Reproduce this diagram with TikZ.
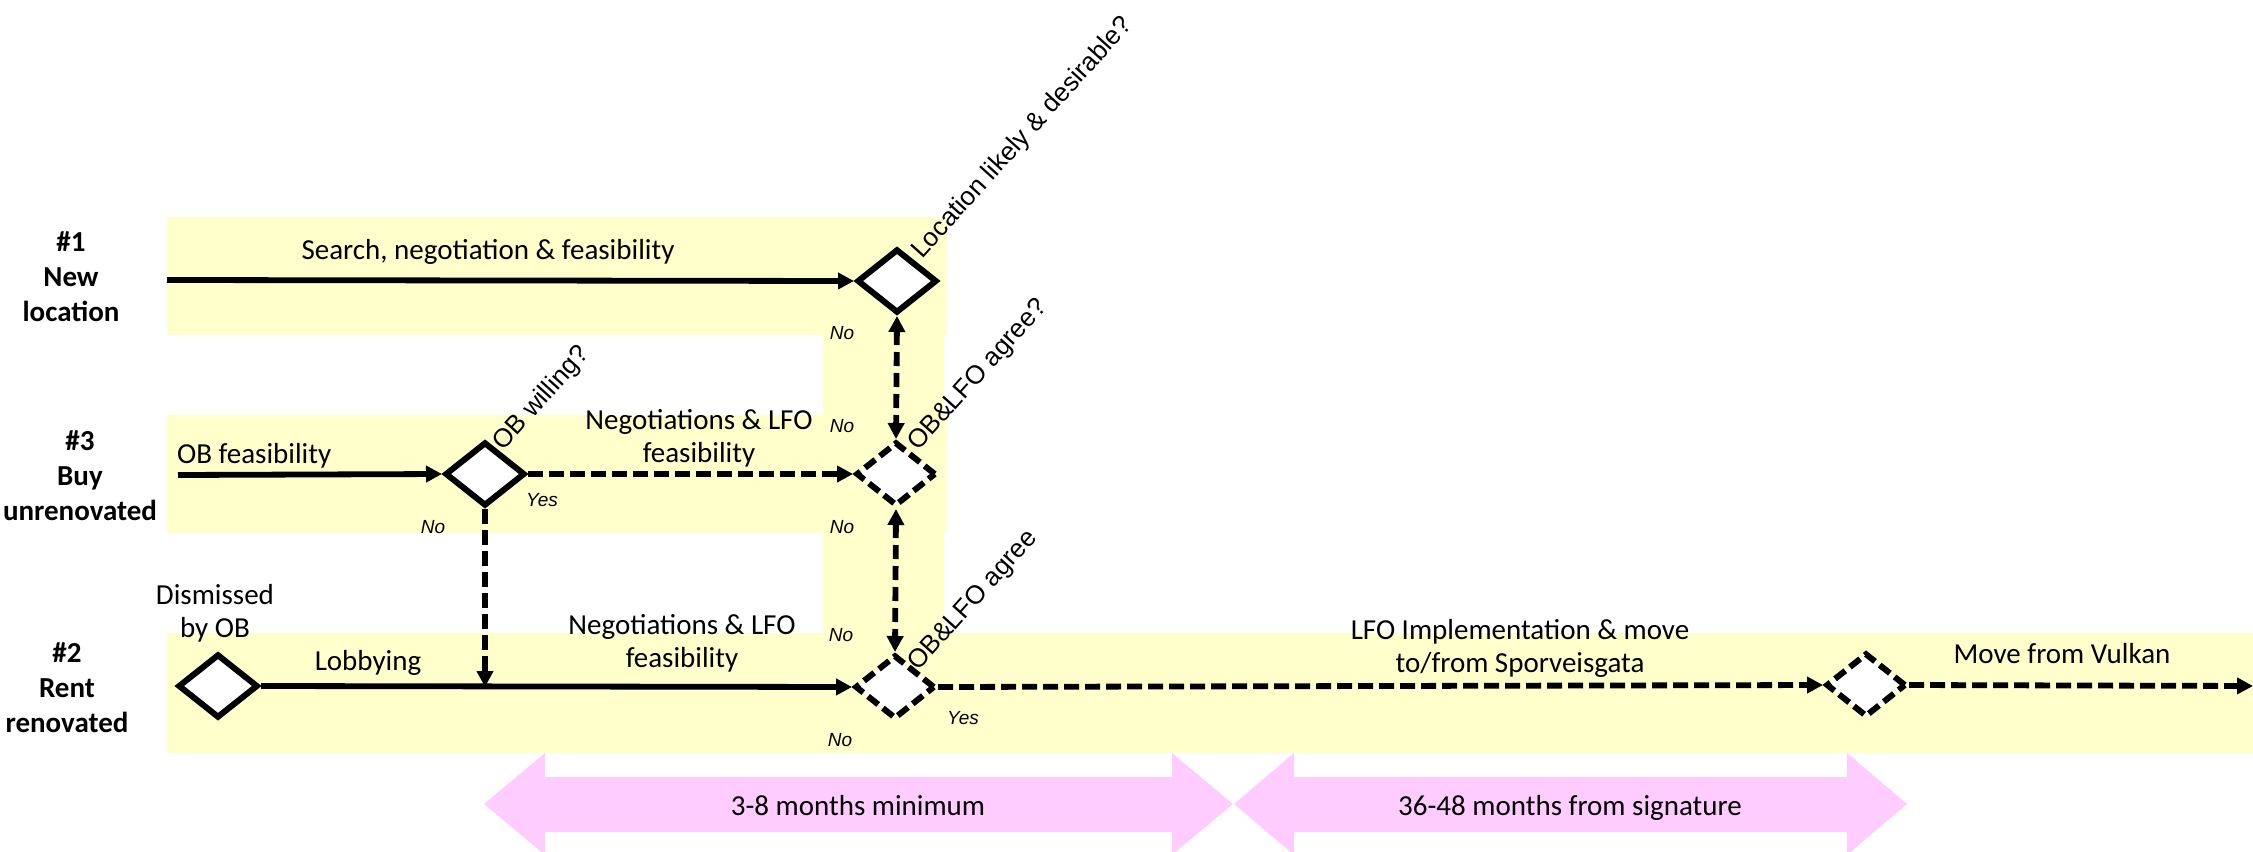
\documentclass[tikz,border=0pt]{standalone}
\usepackage{fontspec}
\setmainfont{Carlito}
\newfontfamily\arialish{Liberation Sans}
\usetikzlibrary{arrows.meta,shapes.geometric}
\definecolor{laneyellow}{HTML}{FFFFCC}
\definecolor{spanpink}{HTML}{FFCCFF}

\begin{document}
\begin{tikzpicture}[x=1pt,y=-1pt,
  laneband/.style={fill=laneyellow, draw=none},
  spanarrow/.style={fill=spanpink, draw=none},
  decision/.style={diamond, draw=black, fill=white, line width=6pt,
    minimum width=80pt, minimum height=64pt, inner sep=0pt},
  pending/.style={decision, dash pattern=on 13pt off 6pt},
  solidflow/.style={line width=5.8pt, -{Triangle[length=16pt,width=16pt]}},
  dashflow/.style={solidflow, dash pattern=on 15pt off 6pt},
  twoway/.style={line width=5.8pt, dash pattern=on 14pt off 7pt,
    {Triangle[length=16pt,width=16pt]}-{Triangle[length=16pt,width=16pt]}},
  lanelabel/.style={font=\fontsize{29}{35}\selectfont\bfseries, align=center},
  steplabel/.style={font=\fontsize{29}{33}\selectfont, align=center},
  answerlbl/.style={font=\arialish\itshape\fontsize{19}{22}\selectfont},
  questionlbl/.style={font=\arialish\fontsize{26}{30}\selectfont, rotate=48,
    anchor=base west, inner sep=0pt},
]
\useasboundingbox (0,0) rectangle (2253,851);

% swim lanes
\fill[laneband] (167,217) rectangle (947,335);
\fill[laneband] (167,415) rectangle (947,533);
\fill[laneband] (167,633) rectangle (2253,753);
\fill[laneband] (823,330) rectangle (944,640);

% duration arrows
\fill[spanarrow] (484,804) -- (545,753) -- (545,777) -- (1172,777) -- (1172,753)
  -- (1233,804) -- (1172,855) -- (1172,832) -- (545,832) -- (545,855) -- cycle;
\fill[spanarrow] (1234,804) -- (1294,753) -- (1294,777) -- (1847,777) -- (1847,753)
  -- (1907,804) -- (1847,855) -- (1847,832) -- (1294,832) -- (1294,855) -- cycle;

% decision points
\node[decision] (loc) at (897,281) {};
\node[decision] (obw) at (485,474) {};
\node[pending] (agr3) at (896,474) {};
\node[decision] (dis) at (218,686) {};
\node[pending] (agr2) at (895,687) {};
\node[pending] (impl) at (1866,685) {};

\coordinate (s1) at (167,280);
\coordinate (s3) at (178,475);
\coordinate (join) at (485,687);
\coordinate (e2) at (2253,686);

% flows
\draw[solidflow] (s1) -- (loc.west);
\draw[solidflow] (s3) -- (obw.west);
\draw[dashflow] (obw.east) -- (agr3.west);
\draw[dashflow] (obw.south) -- (join);
\draw[solidflow] (dis.east) -- (agr2.west);
\draw[dashflow] (agr2.east) -- (impl.west);
\draw[dashflow] (impl.east) -- (e2);
\draw[twoway] (loc.south) -- (agr3.north);
\draw[twoway] (agr3.south) -- (agr2.north);

% lane titles
\node[lanelabel] (l1) at (71,277) {\#1\\New\\location};
\node[lanelabel] (l3) at (80,476) {\#3\\Buy\\unrenovated};
\node[lanelabel] (l2) at (67,688) {\#2\\Rent\\renovated};

% step labels
\node[steplabel, anchor=base] (t1) at (488,259) {Search, negotiation \& feasibility};
\node[steplabel, anchor=base west, inner sep=0pt] (t3a) at (177,463) {OB feasibility};
\node[steplabel] (t3b) at (699,438) {Negotiations \& LFO\\feasibility};
\node[steplabel] (t2a) at (215,613) {Dismissed\\by OB};
\node[steplabel, anchor=base] (t2b) at (368,670) {Lobbying};
\node[steplabel] (t2c) at (682,643) {Negotiations \& LFO\\feasibility};
\node[steplabel] (t2d) at (1520,648) {LFO Implementation \& move\\to/from Sporveisgata};
\node[steplabel, anchor=base] (t2e) at (2062,663) {Move from Vulkan};
\node[steplabel, anchor=base] (p1) at (858,815) {3-8 months minimum};
\node[steplabel, anchor=base] (p2) at (1570,815) {36-48 months from signature};

% questions at the decision points
\node[questionlbl] (q1) at (922,260) {Location likely \& desirable?};
\node[questionlbl] (q2) at (503,452) {OB willing?};
\node[questionlbl] (q3) at (918,452) {OB\&LFO agree?};
\node[questionlbl] (q4) at (918,672) {OB\&LFO agree};

% answers
\node[answerlbl] (n1) at (842,333) {No};
\node[answerlbl] (n2) at (842,426) {No};
\node[answerlbl] (n3) at (842,527) {No};
\node[answerlbl] (n4) at (841,635) {No};
\node[answerlbl] (n5) at (840,740) {No};
\node[answerlbl] (n6) at (433,527) {No};
\node[answerlbl] (y1) at (542,500) {Yes};
\node[answerlbl] (y2) at (963,718) {Yes};
\end{tikzpicture}
\end{document}
